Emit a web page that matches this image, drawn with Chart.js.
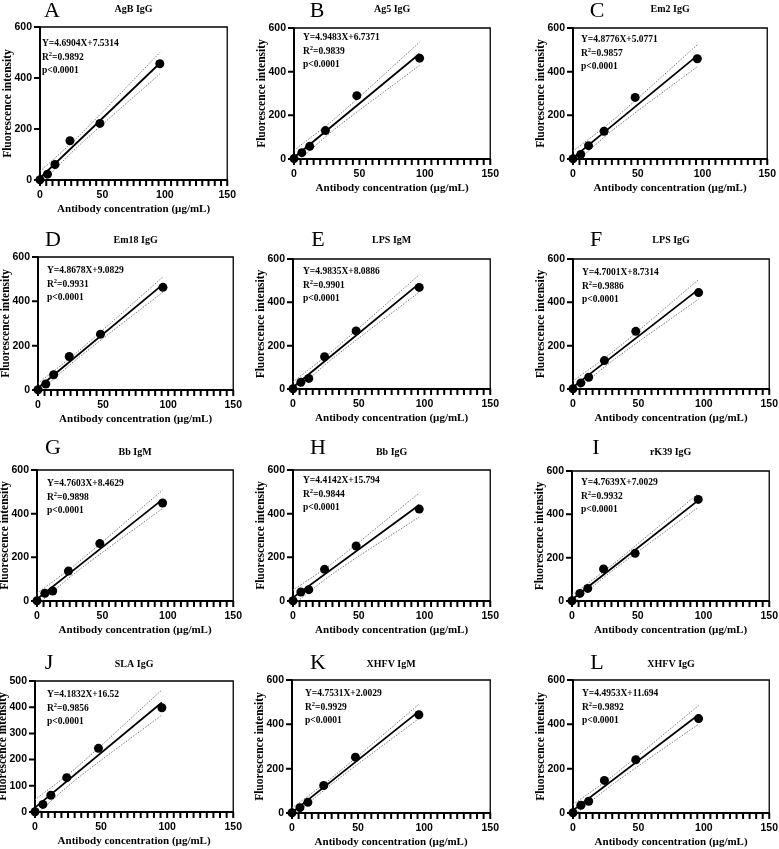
<!DOCTYPE html>
<html>
<head>
<meta charset="utf-8">
<script src="https://cdn.jsdelivr.net/npm/chart.js@4/dist/chart.umd.min.js"></script>
<style>
  body { margin: 0; background: #fff; width: 779px; height: 849px; position: relative; overflow: hidden; }
  canvas { position: absolute; }
</style>
</head>
<body>
<script>
// ---- data ----
const concentrations = [0, 6, 12, 24, 48, 96];   // µg/mL

const agbIgG  = [1, 23, 61, 154, 222, 456];
const ag5IgG  = [2, 29, 58, 130, 290, 462];
const em2IgG  = [1, 21, 61, 127, 282, 459];
const em18IgG = [1, 27, 69, 151, 252, 463];
const lpsIgM  = [1, 31, 49, 149, 268, 469];
const lpsIgG  = [1, 28, 54, 131, 266, 445];
const bbIgM   = [1, 35, 46, 137, 263, 449];
const bbIgG   = [1, 41, 52, 145, 252, 421];
const rk39IgG = [1, 35, 58, 148, 220, 469];
const slaIgG  = [1, 29, 64, 131, 243, 398];
const xhfvIgM = [1, 24, 48, 124, 252, 443];
const xhfvIgG = [1, 35, 53, 147, 240, 426];

const panelLetters = ['A', 'B', 'C', 'D', 'E', 'F', 'G', 'H', 'I', 'J', 'K', 'L'];
const panelTitles = ['AgB IgG', 'Ag5 IgG', 'Em2 IgG', 'Em18 IgG', 'LPS IgM', 'LPS IgG',
                     'Bb IgM', 'Bb IgG', 'rK39 IgG', 'SLA IgG', 'XHFV IgM', 'XHFV IgG'];
const equations = ['Y=4.6904X+7.5314', 'Y=4.9483X+6.7371', 'Y=4.8776X+5.0771', 'Y=4.8678X+9.0829',
                   'Y=4.9835X+8.0886', 'Y=4.7001X+8.7314', 'Y=4.7603X+8.4629', 'Y=4.4142X+15.794',
                   'Y=4.7639X+7.0029', 'Y=4.1832X+16.52', 'Y=4.7531X+2.0029', 'Y=4.4953X+11.694'];
const r2Values = ['0.9892', '0.9839', '0.9857', '0.9931', '0.9901', '0.9886',
                  '0.9898', '0.9844', '0.9932', '0.9856', '0.9929', '0.9892'];
const pText = 'p<0.0001';

// regression line ends (x = 0 and x = 96)
const fitX = [0, 96];
const fitY = [[7.5, 457.8], [6.7, 481.8], [5.1, 473.3], [9.1, 476.4], [8.1, 486.5], [8.7, 459.9],
              [8.5, 465.5], [15.8, 439.6], [7.0, 464.3], [16.5, 418.1], [2.0, 458.3], [11.7, 443.2]];

// 95% band (dotted), read at x = 0, 31, 96
const bandX = [0, 31, 96];
const bandUpper = [[34, 172, 500], [40, 184, 535], [36, 179, 523], [30, 175, 510], [33, 181, 527], [37, 174, 505],
                   [35, 175, 508], [50, 178, 495], [27, 169, 496], [47, 168, 466], [22, 163, 490], [38, 170, 485]];
const bandLower = [[-18, 134, 416], [-26, 136, 429], [-26, 134, 423], [-12, 145, 442], [-17, 145, 447], [-19, 134, 415],
                   [-18, 137, 424], [-18, 128, 385], [-13, 141, 432], [-13, 124, 370], [-18, 135, 426], [-14, 132, 401]];

const yMaxes = [600, 600, 600, 600, 600, 600, 600, 600, 600, 500, 600, 600];
const yTickSteps = [200, 200, 200, 200, 200, 200, 200, 200, 200, 100, 200, 200];
const xMax = 150, xMajorStep = 50, xMinorStep = 5;

const intensities = [agbIgG, ag5IgG, em2IgG, em18IgG, lpsIgM, lpsIgG,
                     bbIgM, bbIgG, rk39IgG, slaIgG, xhfvIgM, xhfvIgG];

// ---- layout (page pixels) ----
// plot area [left, top, right, bottom]
const plotBoxes = [
  [40, 27, 228, 180], [294, 28, 491, 159], [573, 28, 768, 159],
  [38, 257, 234, 390], [293, 259, 491, 389], [573, 259, 770, 389],
  [37, 470, 234, 601], [293, 470, 491, 601], [572, 471, 770, 601],
  [35, 681, 234, 812], [292, 680, 491, 813], [573, 680, 770, 813]
];
const letterX = [52, 317, 597, 53, 318, 596, 53, 318, 596, 49, 318, 597];
const letterBase = [17, 246, 454, 669];
const titleBase = [11.5, 242.5, 454.5, 667];
const eqOffsets = [[2, 19], [9, 12], [8, 14], [9, 16], [10, 15], [9, 16],
                   [10, 16], [10, 13], [9, 14], [12, 16], [13, 16], [9, 16]];

const SERIF = '"Liberation Serif", "Times New Roman", serif';
const SANS = '"Liberation Sans", Arial, sans-serif';
const PAD_TOP = 34, Y_AXIS_W = 40, X_AXIS_H = 38, PAD_RIGHT = 12;
const TICK_LEN = 5;

// frame, axes and tick marks, placed with the chart's own scales
const axisFrame = {
  id: 'axisFrame',
  beforeDatasetsDraw(chart) {
    const ctx = chart.ctx, ca = chart.chartArea;
    const xs = chart.scales.x, ys = chart.scales.y;
    const yStep = chart.options.scales.y.ticks.stepSize;
    ctx.save();
    ctx.strokeStyle = '#000';
    ctx.lineCap = 'butt';
    ctx.lineWidth = 1.3;
    ctx.beginPath();
    ctx.moveTo(ca.left, ca.top);
    ctx.lineTo(ca.right, ca.top);
    ctx.lineTo(ca.right, ca.bottom);
    ctx.stroke();

    ctx.lineWidth = 2;
    ctx.beginPath();
    for (let v = 0; v <= xMax; v += xMinorStep) {
      const px = xs.getPixelForValue(v);
      ctx.moveTo(px, ca.bottom);
      ctx.lineTo(px, ca.bottom + TICK_LEN + 1);
    }
    for (let v = 0; v <= ys.max; v += yStep) {
      const py = ys.getPixelForValue(v);
      ctx.moveTo(ca.left, py);
      ctx.lineTo(ca.left - TICK_LEN - 1, py);
    }
    ctx.stroke();

    ctx.lineWidth = 2;
    ctx.beginPath();
    ctx.moveTo(ca.left, ca.top - 0.6);
    ctx.lineTo(ca.left, ca.bottom);
    ctx.lineTo(ca.right + 0.6, ca.bottom);
    ctx.stroke();
    ctx.restore();
  }
};

const panelText = {
  id: 'panelText',
  afterDraw(chart, args, o) {
    const ctx = chart.ctx, ca = chart.chartArea;
    ctx.save();
    ctx.fillStyle = '#000';
    ctx.textBaseline = 'alphabetic';

    ctx.font = '22px ' + SERIF;
    ctx.textAlign = 'center';
    ctx.fillText(o.letter, o.letterX, o.letterY);

    ctx.font = 'bold 10px ' + SERIF;
    ctx.fillText(o.title, (ca.left + ca.right) / 2, o.titleY);

    ctx.textAlign = 'left';
    const x = ca.left + o.eqDx;
    let y = ca.top + o.eqDy;
    ctx.font = 'bold 9.5px ' + SERIF;
    ctx.fillText(o.equation, x, y);
    y += 13.5;
    ctx.fillText('R', x, y);
    let w = ctx.measureText('R').width;
    ctx.font = 'bold 6.5px ' + SERIF;
    ctx.fillText('2', x + w, y - 4);
    w += ctx.measureText('2').width;
    ctx.font = 'bold 9.5px ' + SERIF;
    ctx.fillText('=' + o.r2, x + w, y);
    y += 13.5;
    ctx.fillText(pText, x, y);
    ctx.restore();
  }
};

const axisTitleFont = { family: SERIF, weight: 'bold', size: 11 };
const tickFont = { family: SANS, weight: 'bold', size: 10.5 };

intensities.forEach((vals, i) => {
  const [l, t, r, b] = plotBoxes[i];
  const row = Math.floor(i / 3);
  const left = l - Y_AXIS_W, top = t - PAD_TOP;
  const w = Y_AXIS_W + (r - l) + PAD_RIGHT;
  const h = PAD_TOP + (b - t) + X_AXIS_H;

  const canvas = document.createElement('canvas');
  canvas.width = w; canvas.height = h;
  canvas.style.left = left + 'px';
  canvas.style.top = top + 'px';
  canvas.style.width = w + 'px';
  canvas.style.height = h + 'px';
  document.body.appendChild(canvas);

  const points = concentrations.map((c, k) => ({ x: c, y: vals[k] }));
  const fit = fitX.map((c, k) => ({ x: c, y: fitY[i][k] }));
  const upper = bandX.map((c, k) => ({ x: c, y: bandUpper[i][k] }));
  const lower = bandX.map((c, k) => ({ x: c, y: bandLower[i][k] }));

  new Chart(canvas, {
    type: 'scatter',
    data: {
      datasets: [
        { label: 'data', data: points, pointRadius: 4.5, pointBorderWidth: 0,
          pointBackgroundColor: '#000', showLine: false, clip: false },
        { label: 'fit', data: fit, showLine: true, borderColor: '#000', borderWidth: 1.8, pointRadius: 0 },
        { label: 'upper', data: upper, showLine: true, borderColor: '#6e6e6e', borderWidth: 0.9,
          borderDash: [1.5, 1.5], pointRadius: 0, tension: 0.3 },
        { label: 'lower', data: lower, showLine: true, borderColor: '#6e6e6e', borderWidth: 0.9,
          borderDash: [1.5, 1.5], pointRadius: 0, tension: 0.3 }
      ]
    },
    options: {
      responsive: false,
      animation: false,
      events: [],
      layout: { padding: { top: PAD_TOP, right: PAD_RIGHT, bottom: 0, left: 0 } },
      plugins: {
        legend: { display: false },
        tooltip: { enabled: false },
        panelText: {
          letter: panelLetters[i], letterX: letterX[i] - left, letterY: letterBase[row] - top,
          title: panelTitles[i], titleY: titleBase[row] - top,
          equation: equations[i], r2: r2Values[i],
          eqDx: eqOffsets[i][0], eqDy: eqOffsets[i][1]
        }
      },
      scales: {
        x: {
          type: 'linear', position: 'bottom', min: 0, max: xMax,
          afterFit: s => { s.height = X_AXIS_H; },
          ticks: { stepSize: xMajorStep, maxRotation: 0, padding: 4, color: '#000', font: tickFont },
          grid: { display: false, drawTicks: true, tickLength: TICK_LEN },
          border: { display: false },
          title: { display: true, text: 'Antibody concentration (µg/mL)', color: '#000',
                   font: axisTitleFont, padding: { top: 0, bottom: 2 } }
        },
        y: {
          type: 'linear', position: 'left', min: 0, max: yMaxes[i],
          afterFit: s => { s.width = Y_AXIS_W; },
          ticks: { stepSize: yTickSteps[i], padding: 3, color: '#000', font: tickFont },
          grid: { display: false, drawTicks: true, tickLength: TICK_LEN },
          border: { display: false },
          title: { display: true, text: 'Fluorescence intensity', color: '#000',
                   font: { family: SERIF, weight: 'bold', size: 11.5 }, padding: { top: 1, bottom: 0 } }
        }
      }
    },
    plugins: [axisFrame, panelText]
  });
});
</script>
</body>
</html>
